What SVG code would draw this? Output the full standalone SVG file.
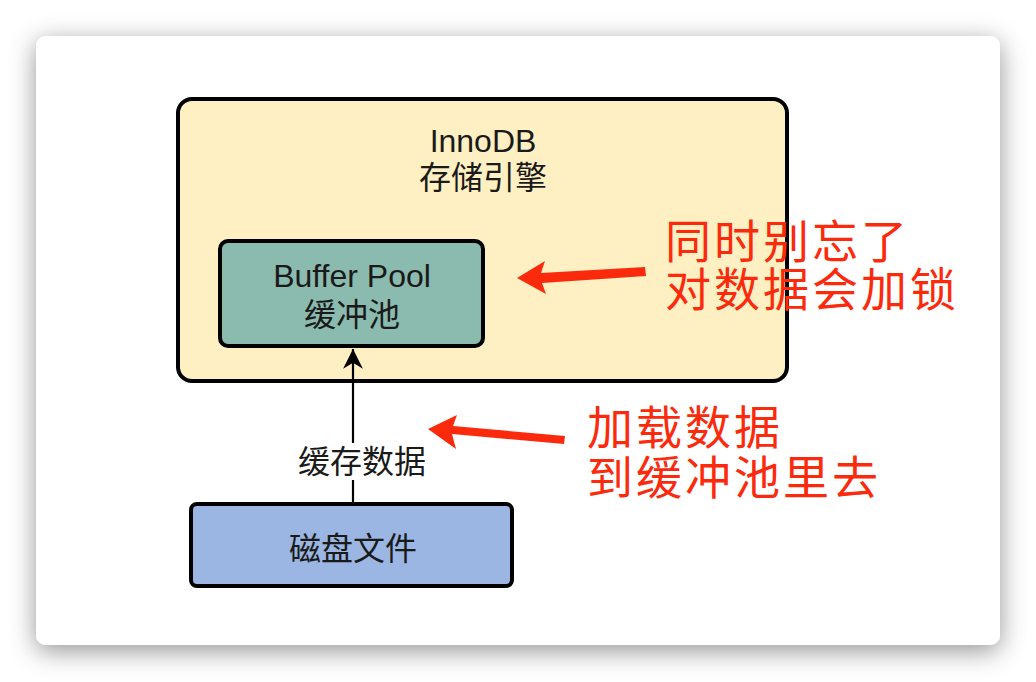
<svg xmlns="http://www.w3.org/2000/svg" width="1036" height="682" viewBox="0 0 1036 682">
<defs>
<filter id="shadow" x="-10%" y="-10%" width="120%" height="125%">
<feDropShadow dx="0" dy="6" stdDeviation="13" flood-color="#000" flood-opacity="0.42"/>
</filter>
<marker id="ah" viewBox="0 0 10 10" refX="10" refY="5" markerWidth="9" markerHeight="9" markerUnits="strokeWidth" orient="auto">
<path d="M0,0 L10,5 L0,10 L3,5 Z" fill="#000"/>
</marker>
<style>
.box{stroke:#000;stroke-width:4}
.t{font-family:"Liberation Sans","Noto Sans CJK SC",sans-serif;font-size:32px;fill:#1a1a1a;text-anchor:middle}
.r{font-family:"Noto Sans CJK SC",sans-serif;font-size:46px;letter-spacing:3px;fill:#fc2a0c}
.ra{fill:#fc2a0c}
</style>
</defs>
<rect width="1036" height="682" fill="#fff"/>
<rect x="36" y="36" width="964" height="609" rx="10" fill="#fff" filter="url(#shadow)"/>
<g id="innodb">
<rect class="box" x="178" y="99" width="609" height="282" rx="14" fill="#fef0c2"/>
<text class="t" x="483" y="152">InnoDB</text>
<text class="t" x="483" y="189">存储引擎</text>
</g>
<g id="bufferpool">
<rect class="box" x="220" y="241" width="263" height="105" rx="8" fill="#8bbbaf"/>
<text class="t" x="352" y="287">Buffer Pool</text>
<text class="t" x="352" y="326">缓冲池</text>
</g>
<g id="disk">
<rect class="box" x="191" y="504" width="321" height="82" rx="6" fill="#9bb6e3"/>
<text class="t" x="353" y="560">磁盘文件</text>
</g>
<g id="connectors">
<line x1="353" y1="502" x2="353" y2="349" stroke="#000" stroke-width="2.2" marker-end="url(#ah)"/>
<rect x="294" y="443" width="138" height="37" fill="#fff"/>
<text class="t" x="362" y="473">缓存数据</text>
</g>
<g id="annotations">
<polygon class="ra" points="517,278 545,261 541,273 645,267 646,276 542,283 546,294"/>
<polygon class="ra" points="428,429 457,415 453,426 565,436 564,444 452,434 456,449"/>
<text class="r" x="665" y="258">同时别忘了</text>
<text class="r" x="665" y="306">对数据会加锁</text>
<text class="r" x="587" y="444">加载数据</text>
<text class="r" x="587" y="494">到缓冲池里去</text>
</g>
</svg>
